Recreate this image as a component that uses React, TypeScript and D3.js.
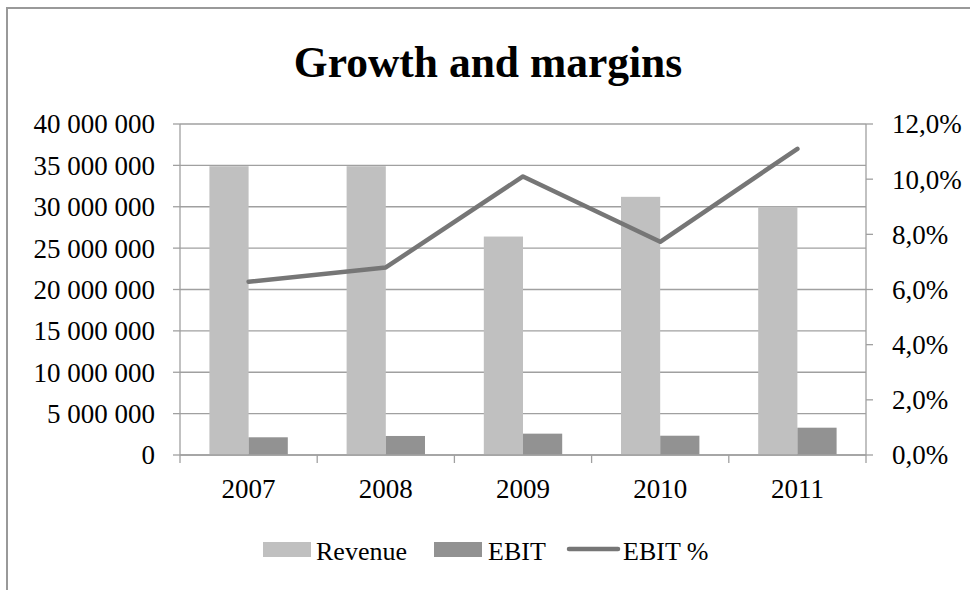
import React from "react";
import * as d3 from "d3";

const years = ["2007", "2008", "2009", "2010", "2011"];
const revenue = [34900000, 34900000, 26400000, 31200000, 30000000];
const ebit = [2140000, 2300000, 2580000, 2330000, 3300000];
const ebitPct = [6.28, 6.8, 10.1, 7.73, 11.1];
const leftTicks = [0, 5000000, 10000000, 15000000, 20000000, 25000000, 30000000, 35000000, 40000000];
const rightTicks = [0, 2, 4, 6, 8, 10, 12];
const seriesNames = ["Revenue", "EBIT", "EBIT %"];

const W = 970;
const H = 590;
const plot = { left: 180, right: 866, top: 124, bottom: 455 };
const FONT = "'Liberation Serif', 'Times New Roman', serif";
const C_REV = "#c0c0c0";
const C_EBIT = "#929292";
const C_LINE = "#767676";
const C_GRID = "#a0a0a0";

function fmtNum(v: number) {
  return d3.format(",")(v).replace(/,/g, " ");
}
function fmtPct(v: number) {
  return v.toFixed(1).replace(".", ",") + "%";
}

export default function App() {
  const x = d3.scaleBand<string>().domain(years).range([plot.left, plot.right]).paddingInner(0).paddingOuter(0);
  const xs = d3.scaleBand<string>().domain(["Revenue", "EBIT"]).range([0, x.bandwidth()]).paddingInner(0).paddingOuter(0.75);
  const yL = d3.scaleLinear().domain([0, 40000000]).range([plot.bottom, plot.top]);
  const yR = d3.scaleLinear().domain([0, 12]).range([plot.bottom, plot.top]);
  const line = d3
    .line<number>()
    .x((_, i) => (x(years[i]) as number) + x.bandwidth() / 2)
    .y((d) => yR(d));

  const catTicks = [...years.map((y) => x(y) as number), plot.right];

  return (
    <svg width={W} height={H} style={{ position: "absolute", left: 0, top: 0, background: "#fff" }}>
      <rect x={7} y={8} width={W + 10} height={H + 10} fill="#fff" stroke="#999" strokeWidth={2} />
      <text x={488} y={77} textAnchor="middle" fontFamily={FONT} fontWeight="bold" fontSize={43.5} fill="#000">
        Growth and margins
      </text>

      {/* gridlines */}
      {leftTicks.map((t) => (
        <line key={"g" + t} x1={plot.left} x2={plot.right} y1={yL(t)} y2={yL(t)} stroke={C_GRID} strokeWidth={1.3} />
      ))}

      {/* bars */}
      {years.map((yr, i) => (
        <g key={"b" + yr}>
          <rect
            x={(x(yr) as number) + (xs("Revenue") as number)}
            y={yL(revenue[i])}
            width={xs.bandwidth()}
            height={plot.bottom - yL(revenue[i])}
            fill={C_REV}
          />
          <rect
            x={(x(yr) as number) + (xs("EBIT") as number)}
            y={yL(ebit[i])}
            width={xs.bandwidth()}
            height={plot.bottom - yL(ebit[i])}
            fill={C_EBIT}
          />
        </g>
      ))}

      {/* axes */}
      <line x1={plot.left} x2={plot.left} y1={plot.top} y2={plot.bottom} stroke={C_GRID} strokeWidth={1.3} />
      <line x1={plot.right} x2={plot.right} y1={plot.top} y2={plot.bottom} stroke={C_GRID} strokeWidth={1.3} />
      <line x1={plot.left} x2={plot.right} y1={plot.bottom} y2={plot.bottom} stroke={C_GRID} strokeWidth={1.3} />
      {leftTicks.map((t) => (
        <g key={"lt" + t}>
          <line x1={plot.left - 7} x2={plot.left} y1={yL(t)} y2={yL(t)} stroke={C_GRID} strokeWidth={1.3} />
          <text x={155} y={yL(t)} dy="0.35em" textAnchor="end" fontFamily={FONT} fontSize={27} fill="#000">
            {fmtNum(t)}
          </text>
        </g>
      ))}
      {rightTicks.map((t) => (
        <g key={"rt" + t}>
          <line x1={plot.right} x2={plot.right + 7} y1={yR(t)} y2={yR(t)} stroke={C_GRID} strokeWidth={1.3} />
          <text x={892} y={yR(t)} dy="0.35em" textAnchor="start" fontFamily={FONT} fontSize={27} fill="#000">
            {fmtPct(t)}
          </text>
        </g>
      ))}
      {catTicks.map((cx, i) => (
        <line key={"ct" + i} x1={cx} x2={cx} y1={plot.bottom} y2={plot.bottom + 8} stroke={C_GRID} strokeWidth={1.3} />
      ))}
      {years.map((yr) => (
        <text
          key={"xl" + yr}
          x={(x(yr) as number) + x.bandwidth() / 2}
          y={498}
          textAnchor="middle"
          fontFamily={FONT}
          fontSize={27}
          fill="#000"
        >
          {yr}
        </text>
      ))}

      {/* line */}
      <path d={line(ebitPct) as string} fill="none" stroke={C_LINE} strokeWidth={4.5} strokeLinejoin="round" strokeLinecap="round" />

      {/* legend */}
      <rect x={263} y={542} width={48} height={15} fill={C_REV} />
      <text x={316} y={560} fontFamily={FONT} fontSize={26} fill="#000">{seriesNames[0]}</text>
      <rect x={434} y={542} width={48} height={15} fill={C_EBIT} />
      <text x={488} y={560} fontFamily={FONT} fontSize={26} fill="#000">{seriesNames[1]}</text>
      <line x1={569} x2={618} y1={549} y2={549} stroke={C_LINE} strokeWidth={4.5} strokeLinecap="round" />
      <text x={623} y={560} fontFamily={FONT} fontSize={26} fill="#000">{seriesNames[2]}</text>
    </svg>
  );
}
